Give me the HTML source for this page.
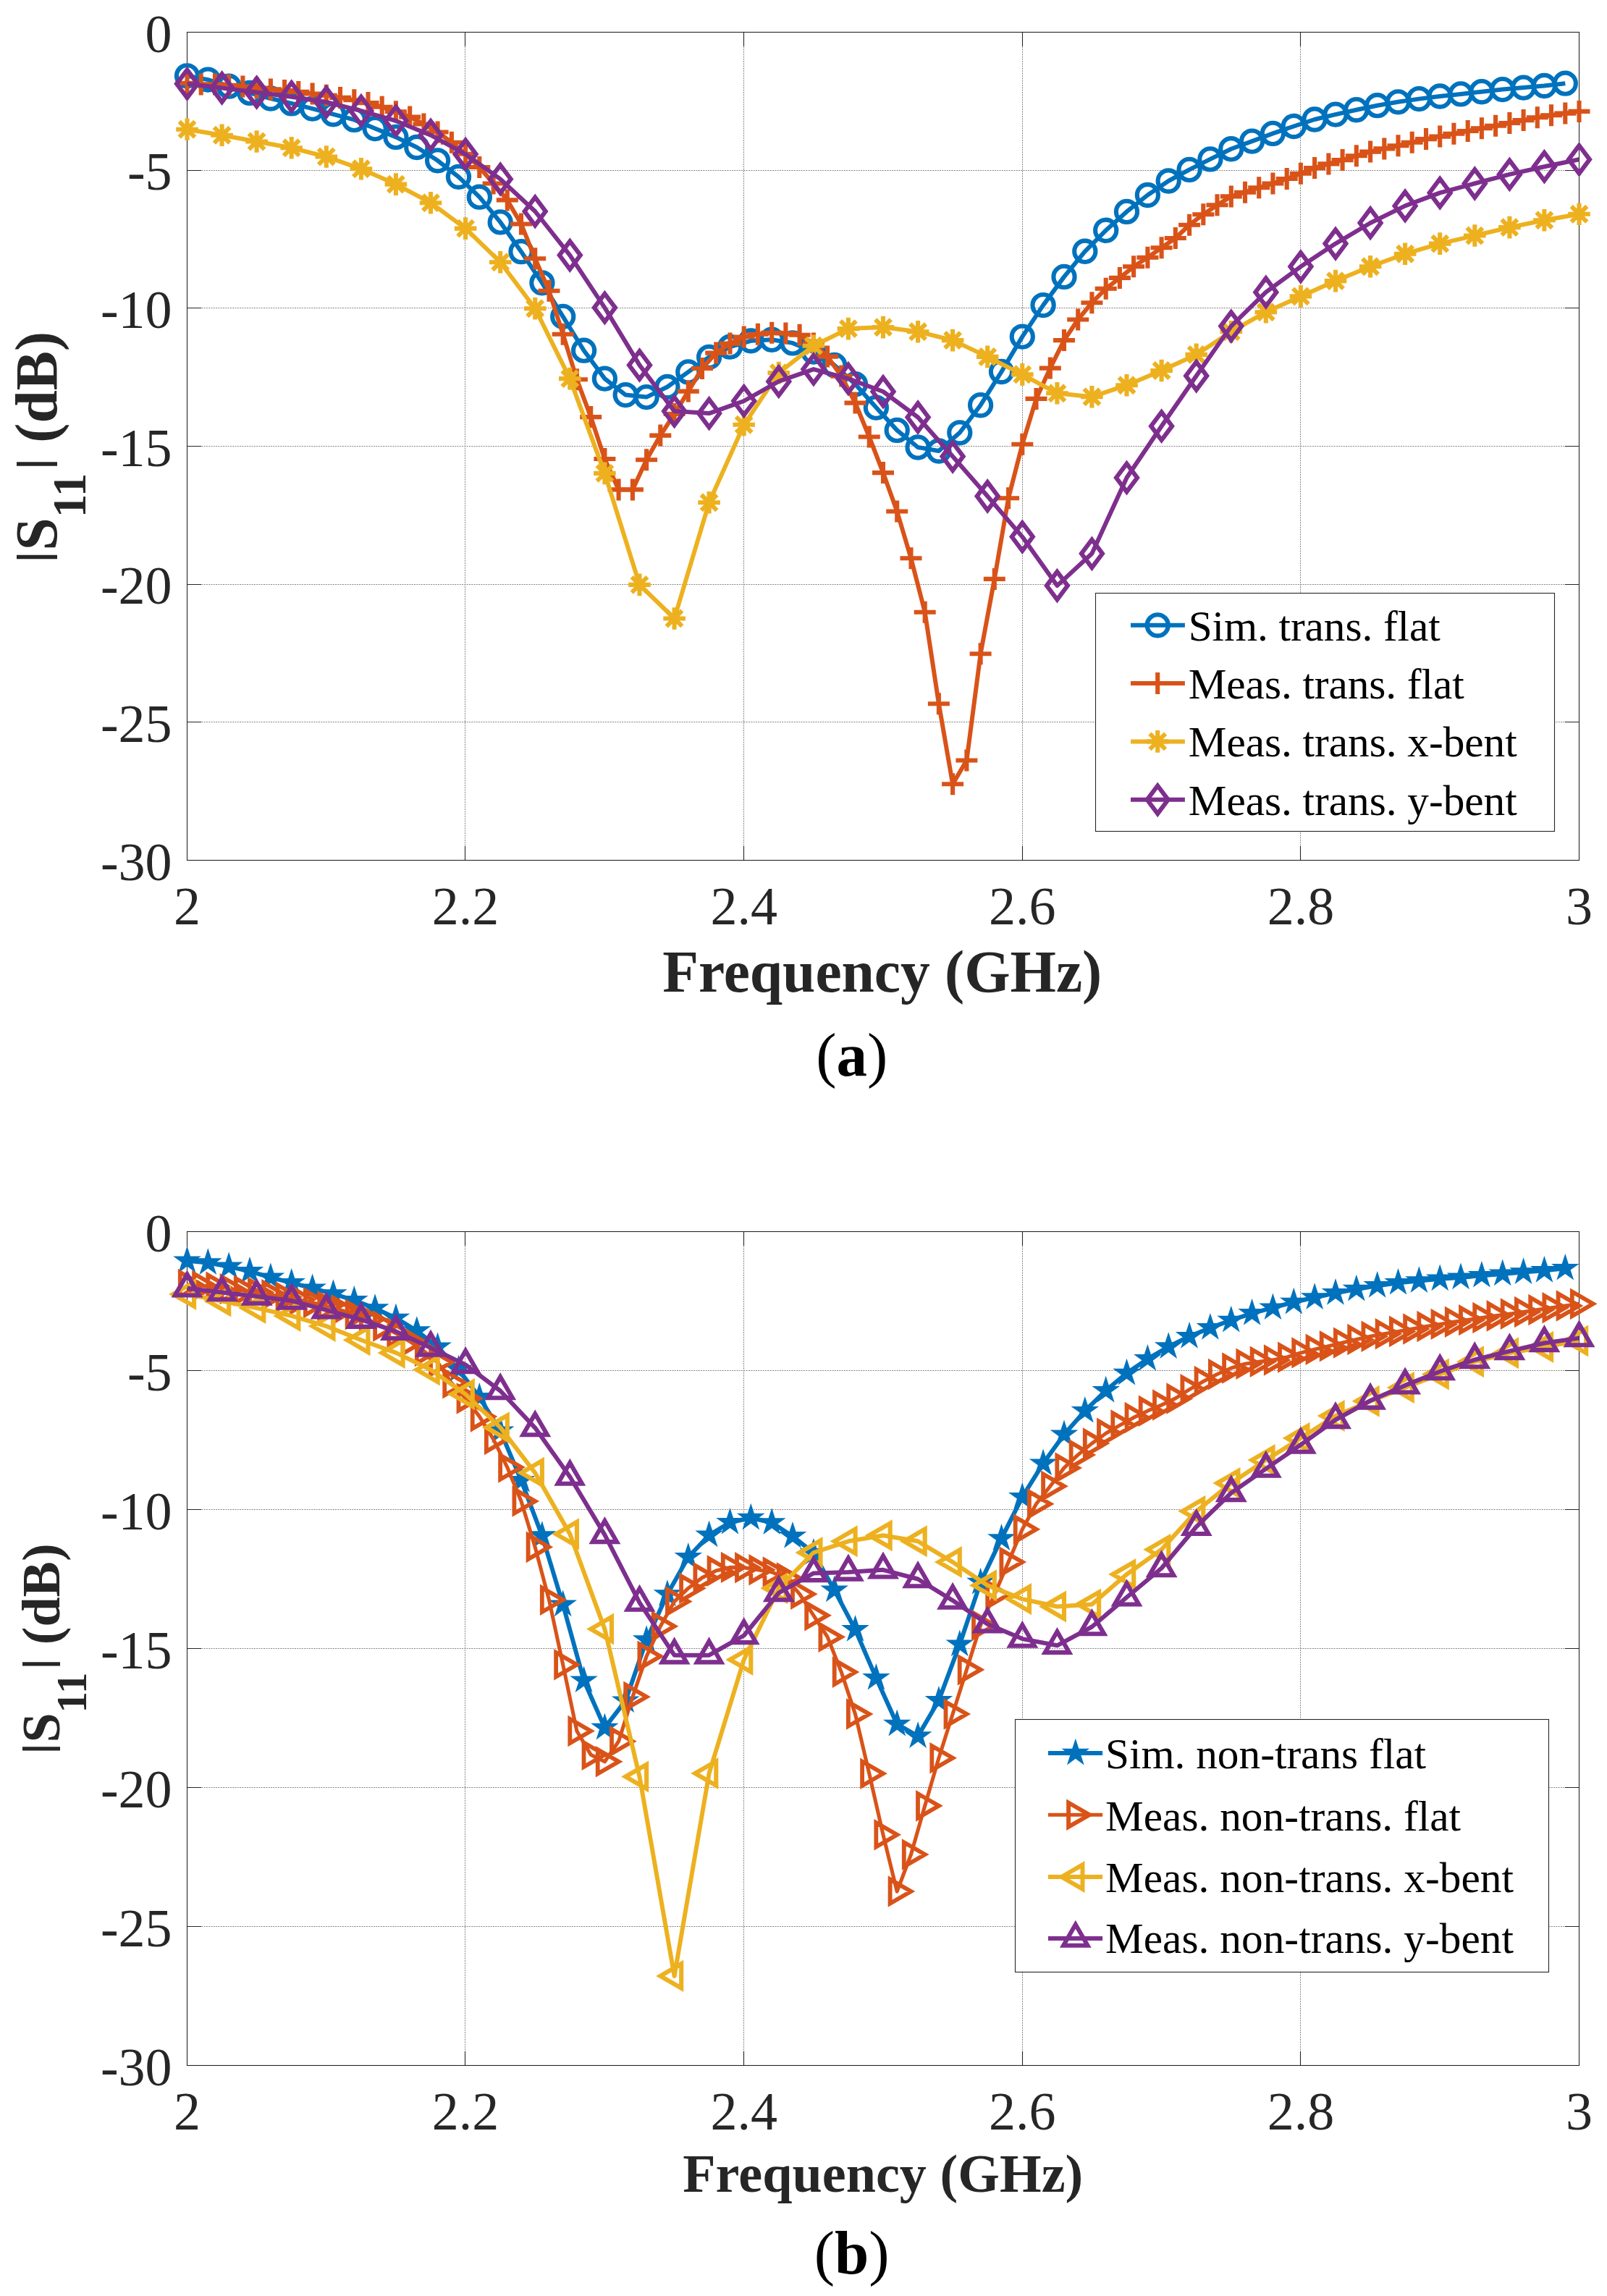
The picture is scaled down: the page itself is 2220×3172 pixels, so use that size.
<!DOCTYPE html>
<html lang="en"><head><meta charset="utf-8"><title>S11 plots</title>
<style>html,body{margin:0;padding:0;background:#fff}svg{display:block}</style></head>
<body>
<svg width="2220" height="3172" viewBox="0 0 2220 3172">
<rect width="2220" height="3172" fill="#fff"/>
<clipPath id="clip1"><rect x="258.5" y="44.5" width="1923" height="1144"/></clipPath>
<path d="M642.5 44.5V1188.5M1027.5 44.5V1188.5M1412.5 44.5V1188.5M1796.5 44.5V1188.5M258.5 235.5H2181.5M258.5 425.5H2181.5M258.5 616.5H2181.5M258.5 807.5H2181.5M258.5 997.5H2181.5" fill="none" stroke="#858585" stroke-width="1" stroke-dasharray="2 1.3"/>
<path d="M642.5 1188.5v-19.5M642.5 44.5v19.5M1027.5 1188.5v-19.5M1027.5 44.5v19.5M1412.5 1188.5v-19.5M1412.5 44.5v19.5M1796.5 1188.5v-19.5M1796.5 44.5v19.5M258.5 235.5h19.5M2181.5 235.5h-19.5M258.5 425.5h19.5M2181.5 425.5h-19.5M258.5 616.5h19.5M2181.5 616.5h-19.5M258.5 807.5h19.5M2181.5 807.5h-19.5M258.5 997.5h19.5M2181.5 997.5h-19.5" fill="none" stroke="#262626" stroke-width="1.1"/>
<rect x="258.5" y="44.5" width="1923" height="1144" fill="none" stroke="#262626" stroke-width="1.1"/>
<path d="M258.5 104.8L287.3 110.1L316.2 119.2L345 128.4L373.9 136L402.7 142.9L431.6 150.1L460.4 157.8L489.3 165.4L518.1 177.6L546.9 189.4L575.8 203.5L604.6 221.8L633.5 244.3L662.3 272.2L691.2 306.9L720 347.7L748.9 390.8L777.7 437.3L806.6 484.2L835.4 523.1L864.2 545.6L893.1 548.6L921.9 534.5L950.8 513.9L979.6 493.3L1008.5 479.2L1037.3 470.8L1066.2 469.3L1095 473.9L1123.9 486.1L1152.7 504.4L1181.5 530.7L1210.4 563.1L1239.2 594.4L1268.1 618L1296.9 623L1325.8 597.8L1354.6 559.7L1383.5 513.5L1412.3 465.1L1441.1 421.6L1470 382.4L1498.8 347.3L1527.7 318.3L1556.5 292.4L1585.4 269.5L1614.2 250L1643.1 234.4L1671.9 219.9L1700.8 205.8L1729.6 195.1L1758.4 184.4L1787.3 174.5L1816.1 165L1845 158.1L1873.8 151.7L1902.7 145.7L1931.5 140.8L1960.4 136.6L1989.2 133L2018 129.9L2046.9 126.7L2075.7 123.6L2104.6 121.1L2133.4 118.5L2162.3 115.2" fill="none" stroke="#0072BD" stroke-width="6.0" stroke-linejoin="round" clip-path="url(#clip1)"/>
<path d="M243.9 104.8a14.6 14.6 0 1 0 29.2 0a14.6 14.6 0 1 0 -29.2 0zM272.7 110.1a14.6 14.6 0 1 0 29.2 0a14.6 14.6 0 1 0 -29.2 0zM301.6 119.2a14.6 14.6 0 1 0 29.2 0a14.6 14.6 0 1 0 -29.2 0zM330.4 128.4a14.6 14.6 0 1 0 29.2 0a14.6 14.6 0 1 0 -29.2 0zM359.3 136a14.6 14.6 0 1 0 29.2 0a14.6 14.6 0 1 0 -29.2 0zM388.1 142.9a14.6 14.6 0 1 0 29.2 0a14.6 14.6 0 1 0 -29.2 0zM417 150.1a14.6 14.6 0 1 0 29.2 0a14.6 14.6 0 1 0 -29.2 0zM445.8 157.8a14.6 14.6 0 1 0 29.2 0a14.6 14.6 0 1 0 -29.2 0zM474.7 165.4a14.6 14.6 0 1 0 29.2 0a14.6 14.6 0 1 0 -29.2 0zM503.5 177.6a14.6 14.6 0 1 0 29.2 0a14.6 14.6 0 1 0 -29.2 0zM532.3 189.4a14.6 14.6 0 1 0 29.2 0a14.6 14.6 0 1 0 -29.2 0zM561.2 203.5a14.6 14.6 0 1 0 29.2 0a14.6 14.6 0 1 0 -29.2 0zM590 221.8a14.6 14.6 0 1 0 29.2 0a14.6 14.6 0 1 0 -29.2 0zM618.9 244.3a14.6 14.6 0 1 0 29.2 0a14.6 14.6 0 1 0 -29.2 0zM647.7 272.2a14.6 14.6 0 1 0 29.2 0a14.6 14.6 0 1 0 -29.2 0zM676.6 306.9a14.6 14.6 0 1 0 29.2 0a14.6 14.6 0 1 0 -29.2 0zM705.4 347.7a14.6 14.6 0 1 0 29.2 0a14.6 14.6 0 1 0 -29.2 0zM734.3 390.8a14.6 14.6 0 1 0 29.2 0a14.6 14.6 0 1 0 -29.2 0zM763.1 437.3a14.6 14.6 0 1 0 29.2 0a14.6 14.6 0 1 0 -29.2 0zM792 484.2a14.6 14.6 0 1 0 29.2 0a14.6 14.6 0 1 0 -29.2 0zM820.8 523.1a14.6 14.6 0 1 0 29.2 0a14.6 14.6 0 1 0 -29.2 0zM849.6 545.6a14.6 14.6 0 1 0 29.2 0a14.6 14.6 0 1 0 -29.2 0zM878.5 548.6a14.6 14.6 0 1 0 29.2 0a14.6 14.6 0 1 0 -29.2 0zM907.3 534.5a14.6 14.6 0 1 0 29.2 0a14.6 14.6 0 1 0 -29.2 0zM936.2 513.9a14.6 14.6 0 1 0 29.2 0a14.6 14.6 0 1 0 -29.2 0zM965 493.3a14.6 14.6 0 1 0 29.2 0a14.6 14.6 0 1 0 -29.2 0zM993.9 479.2a14.6 14.6 0 1 0 29.2 0a14.6 14.6 0 1 0 -29.2 0zM1022.7 470.8a14.6 14.6 0 1 0 29.2 0a14.6 14.6 0 1 0 -29.2 0zM1051.6 469.3a14.6 14.6 0 1 0 29.2 0a14.6 14.6 0 1 0 -29.2 0zM1080.4 473.9a14.6 14.6 0 1 0 29.2 0a14.6 14.6 0 1 0 -29.2 0zM1109.3 486.1a14.6 14.6 0 1 0 29.2 0a14.6 14.6 0 1 0 -29.2 0zM1138.1 504.4a14.6 14.6 0 1 0 29.2 0a14.6 14.6 0 1 0 -29.2 0zM1166.9 530.7a14.6 14.6 0 1 0 29.2 0a14.6 14.6 0 1 0 -29.2 0zM1195.8 563.1a14.6 14.6 0 1 0 29.2 0a14.6 14.6 0 1 0 -29.2 0zM1224.6 594.4a14.6 14.6 0 1 0 29.2 0a14.6 14.6 0 1 0 -29.2 0zM1253.5 618a14.6 14.6 0 1 0 29.2 0a14.6 14.6 0 1 0 -29.2 0zM1282.3 623a14.6 14.6 0 1 0 29.2 0a14.6 14.6 0 1 0 -29.2 0zM1311.2 597.8a14.6 14.6 0 1 0 29.2 0a14.6 14.6 0 1 0 -29.2 0zM1340 559.7a14.6 14.6 0 1 0 29.2 0a14.6 14.6 0 1 0 -29.2 0zM1368.9 513.5a14.6 14.6 0 1 0 29.2 0a14.6 14.6 0 1 0 -29.2 0zM1397.7 465.1a14.6 14.6 0 1 0 29.2 0a14.6 14.6 0 1 0 -29.2 0zM1426.5 421.6a14.6 14.6 0 1 0 29.2 0a14.6 14.6 0 1 0 -29.2 0zM1455.4 382.4a14.6 14.6 0 1 0 29.2 0a14.6 14.6 0 1 0 -29.2 0zM1484.2 347.3a14.6 14.6 0 1 0 29.2 0a14.6 14.6 0 1 0 -29.2 0zM1513.1 318.3a14.6 14.6 0 1 0 29.2 0a14.6 14.6 0 1 0 -29.2 0zM1541.9 292.4a14.6 14.6 0 1 0 29.2 0a14.6 14.6 0 1 0 -29.2 0zM1570.8 269.5a14.6 14.6 0 1 0 29.2 0a14.6 14.6 0 1 0 -29.2 0zM1599.6 250a14.6 14.6 0 1 0 29.2 0a14.6 14.6 0 1 0 -29.2 0zM1628.5 234.4a14.6 14.6 0 1 0 29.2 0a14.6 14.6 0 1 0 -29.2 0zM1657.3 219.9a14.6 14.6 0 1 0 29.2 0a14.6 14.6 0 1 0 -29.2 0zM1686.2 205.8a14.6 14.6 0 1 0 29.2 0a14.6 14.6 0 1 0 -29.2 0zM1715 195.1a14.6 14.6 0 1 0 29.2 0a14.6 14.6 0 1 0 -29.2 0zM1743.8 184.4a14.6 14.6 0 1 0 29.2 0a14.6 14.6 0 1 0 -29.2 0zM1772.7 174.5a14.6 14.6 0 1 0 29.2 0a14.6 14.6 0 1 0 -29.2 0zM1801.5 165a14.6 14.6 0 1 0 29.2 0a14.6 14.6 0 1 0 -29.2 0zM1830.4 158.1a14.6 14.6 0 1 0 29.2 0a14.6 14.6 0 1 0 -29.2 0zM1859.2 151.7a14.6 14.6 0 1 0 29.2 0a14.6 14.6 0 1 0 -29.2 0zM1888.1 145.7a14.6 14.6 0 1 0 29.2 0a14.6 14.6 0 1 0 -29.2 0zM1916.9 140.8a14.6 14.6 0 1 0 29.2 0a14.6 14.6 0 1 0 -29.2 0zM1945.8 136.6a14.6 14.6 0 1 0 29.2 0a14.6 14.6 0 1 0 -29.2 0zM1974.6 133a14.6 14.6 0 1 0 29.2 0a14.6 14.6 0 1 0 -29.2 0zM2003.4 129.9a14.6 14.6 0 1 0 29.2 0a14.6 14.6 0 1 0 -29.2 0zM2032.3 126.7a14.6 14.6 0 1 0 29.2 0a14.6 14.6 0 1 0 -29.2 0zM2061.1 123.6a14.6 14.6 0 1 0 29.2 0a14.6 14.6 0 1 0 -29.2 0zM2090 121.1a14.6 14.6 0 1 0 29.2 0a14.6 14.6 0 1 0 -29.2 0zM2118.8 118.5a14.6 14.6 0 1 0 29.2 0a14.6 14.6 0 1 0 -29.2 0zM2147.7 115.2a14.6 14.6 0 1 0 29.2 0a14.6 14.6 0 1 0 -29.2 0z" fill="none" stroke="#0072BD" stroke-width="6.1" stroke-linejoin="miter" stroke-miterlimit="10"/>
<path d="M258.5 114.7L277.7 116.6L297 116.6L316.2 117.7L335.4 119.6L354.6 121.5L373.9 123.4L393.1 125L412.3 126.9L431.6 129.5L450.8 131.8L470 134.9L489.3 138.3L508.5 142.1L527.7 147.8L546.9 154.3L566.2 161.6L585.4 171.5L604.6 182.5L623.9 196.7L643.1 212.7L662.3 231L681.6 253.5L700.8 276.4L720 309.5L739.2 357.2L758.5 401.8L777.7 461.7L796.9 524.2L816.2 576.1L835.4 634L854.6 676.4L873.9 676.4L893.1 635.2L912.3 601.6L931.6 571.9L950.8 540.6L970 509L989.2 487.6L1008.5 474.6L1027.7 465.5L1046.9 461.7L1066.2 459.8L1085.4 460.5L1104.6 462.8L1123.9 474.6L1143.1 492.6L1162.3 519.6L1181.5 556.6L1200.8 603.5L1220 653.1L1239.2 706.5L1258.5 771.3L1277.7 845.7L1296.9 972.3L1316.1 1083.3L1335.4 1050.5L1354.6 903.3L1373.8 799.9L1393.1 688.2L1412.3 613.8L1431.5 550.9L1450.8 508.6L1470 470.1L1489.2 441.5L1508.4 418.2L1527.7 398.8L1546.9 383.9L1566.1 368.3L1585.4 355.7L1604.6 342.3L1623.8 329L1643.1 310.7L1662.3 296.2L1681.5 283.2L1700.8 271.4L1720 265.7L1739.2 259.2L1758.4 253.5L1777.7 247L1796.9 239.7L1816.1 232.1L1835.4 226.4L1854.6 221.1L1873.8 215.3L1893.1 209.6L1912.3 205.4L1931.5 201.2L1950.7 196.7L1970 192.1L1989.2 188.6L2008.4 184.8L2027.7 181L2046.9 177.2L2066.1 173.8L2085.4 170L2104.6 166.1L2123.8 162.3L2143 159.3L2162.3 156.6L2181.5 153.9" fill="none" stroke="#D95319" stroke-width="6.0" stroke-linejoin="round" clip-path="url(#clip1)"/>
<path d="M243.5 114.7h30M258.5 99.7v30M262.7 116.6h30M277.7 101.6v30M282 116.6h30M297 101.6v30M301.2 117.7h30M316.2 102.7v30M320.4 119.6h30M335.4 104.6v30M339.6 121.5h30M354.6 106.5v30M358.9 123.4h30M373.9 108.4v30M378.1 125h30M393.1 110v30M397.3 126.9h30M412.3 111.9v30M416.6 129.5h30M431.6 114.5v30M435.8 131.8h30M450.8 116.8v30M455 134.9h30M470 119.9v30M474.3 138.3h30M489.3 123.3v30M493.5 142.1h30M508.5 127.1v30M512.7 147.8h30M527.7 132.8v30M531.9 154.3h30M546.9 139.3v30M551.2 161.6h30M566.2 146.6v30M570.4 171.5h30M585.4 156.5v30M589.6 182.5h30M604.6 167.5v30M608.9 196.7h30M623.9 181.7v30M628.1 212.7h30M643.1 197.7v30M647.3 231h30M662.3 216v30M666.6 253.5h30M681.6 238.5v30M685.8 276.4h30M700.8 261.4v30M705 309.5h30M720 294.5v30M724.2 357.2h30M739.2 342.2v30M743.5 401.8h30M758.5 386.8v30M762.7 461.7h30M777.7 446.7v30M781.9 524.2h30M796.9 509.2v30M801.2 576.1h30M816.2 561.1v30M820.4 634h30M835.4 619v30M839.6 676.4h30M854.6 661.4v30M858.9 676.4h30M873.9 661.4v30M878.1 635.2h30M893.1 620.2v30M897.3 601.6h30M912.3 586.6v30M916.6 571.9h30M931.6 556.9v30M935.8 540.6h30M950.8 525.6v30M955 509h30M970 494v30M974.2 487.6h30M989.2 472.6v30M993.5 474.6h30M1008.5 459.6v30M1012.7 465.5h30M1027.7 450.5v30M1031.9 461.7h30M1046.9 446.7v30M1051.2 459.8h30M1066.2 444.8v30M1070.4 460.5h30M1085.4 445.5v30M1089.6 462.8h30M1104.6 447.8v30M1108.9 474.6h30M1123.9 459.6v30M1128.1 492.6h30M1143.1 477.6v30M1147.3 519.6h30M1162.3 504.6v30M1166.5 556.6h30M1181.5 541.6v30M1185.8 603.5h30M1200.8 588.5v30M1205 653.1h30M1220 638.1v30M1224.2 706.5h30M1239.2 691.5v30M1243.5 771.3h30M1258.5 756.3v30M1262.7 845.7h30M1277.7 830.7v30M1281.9 972.3h30M1296.9 957.3v30M1301.1 1083.3h30M1316.1 1068.3v30M1320.4 1050.5h30M1335.4 1035.5v30M1339.6 903.3h30M1354.6 888.3v30M1358.8 799.9h30M1373.8 784.9v30M1378.1 688.2h30M1393.1 673.2v30M1397.3 613.8h30M1412.3 598.8v30M1416.5 550.9h30M1431.5 535.9v30M1435.8 508.6h30M1450.8 493.6v30M1455 470.1h30M1470 455.1v30M1474.2 441.5h30M1489.2 426.5v30M1493.4 418.2h30M1508.4 403.2v30M1512.7 398.8h30M1527.7 383.8v30M1531.9 383.9h30M1546.9 368.9v30M1551.1 368.3h30M1566.1 353.3v30M1570.4 355.7h30M1585.4 340.7v30M1589.6 342.3h30M1604.6 327.3v30M1608.8 329h30M1623.8 314v30M1628.1 310.7h30M1643.1 295.7v30M1647.3 296.2h30M1662.3 281.2v30M1666.5 283.2h30M1681.5 268.2v30M1685.8 271.4h30M1700.8 256.4v30M1705 265.7h30M1720 250.7v30M1724.2 259.2h30M1739.2 244.2v30M1743.4 253.5h30M1758.4 238.5v30M1762.7 247h30M1777.7 232v30M1781.9 239.7h30M1796.9 224.7v30M1801.1 232.1h30M1816.1 217.1v30M1820.4 226.4h30M1835.4 211.4v30M1839.6 221.1h30M1854.6 206.1v30M1858.8 215.3h30M1873.8 200.3v30M1878.1 209.6h30M1893.1 194.6v30M1897.3 205.4h30M1912.3 190.4v30M1916.5 201.2h30M1931.5 186.2v30M1935.7 196.7h30M1950.7 181.7v30M1955 192.1h30M1970 177.1v30M1974.2 188.6h30M1989.2 173.6v30M1993.4 184.8h30M2008.4 169.8v30M2012.7 181h30M2027.7 166v30M2031.9 177.2h30M2046.9 162.2v30M2051.1 173.8h30M2066.1 158.8v30M2070.4 170h30M2085.4 155v30M2089.6 166.1h30M2104.6 151.1v30M2108.8 162.3h30M2123.8 147.3v30M2128 159.3h30M2143 144.3v30M2147.3 156.6h30M2162.3 141.6v30M2166.5 153.9h30M2181.5 138.9v30" fill="none" stroke="#D95319" stroke-width="6.1" stroke-linejoin="miter" stroke-miterlimit="10"/>
<path d="M258.5 178.7L306.6 186.7L354.6 195.5L402.7 204.3L450.8 216.5L498.9 233.3L546.9 254.6L595 280.2L643.1 315.6L691.2 362.2L739.2 426.2L787.3 523.1L835.4 653.9L883.5 807.9L931.6 854.5L979.6 694.3L1027.7 586.8L1075.8 515.1L1123.9 477.7L1171.9 454.1L1220 452.1L1268.1 458.2L1316.1 470.1L1364.2 492.9L1412.3 517.4L1460.4 543.3L1508.4 548.2L1556.5 532.2L1604.6 512L1652.7 489.9L1700.8 458.2L1748.8 431.2L1796.9 409.4L1845 388.1L1893.1 368.3L1941.1 350.7L1989.2 336.6L2037.3 325.5L2085.4 314.1L2133.4 304.2L2181.5 295.8" fill="none" stroke="#EDB120" stroke-width="6.0" stroke-linejoin="round" clip-path="url(#clip1)"/>
<path d="M243.2 178.7h30.6M258.5 163.4v30.6M247.7 167.9l21.6 21.6M247.7 189.5l21.6 -21.6M291.3 186.7h30.6M306.6 171.4v30.6M295.8 175.9l21.6 21.6M295.8 197.6l21.6 -21.6M339.3 195.5h30.6M354.6 180.2v30.6M343.8 184.7l21.6 21.6M343.8 206.3l21.6 -21.6M387.4 204.3h30.6M402.7 189v30.6M391.9 193.5l21.6 21.6M391.9 215.1l21.6 -21.6M435.5 216.5h30.6M450.8 201.2v30.6M440 205.7l21.6 21.6M440 227.3l21.6 -21.6M483.6 233.3h30.6M498.9 218v30.6M488.1 222.4l21.6 21.6M488.1 244.1l21.6 -21.6M531.6 254.6h30.6M546.9 239.3v30.6M536.1 243.8l21.6 21.6M536.1 265.4l21.6 -21.6M579.7 280.2h30.6M595 264.9v30.6M584.2 269.3l21.6 21.6M584.2 291l21.6 -21.6M627.8 315.6h30.6M643.1 300.3v30.6M632.3 304.8l21.6 21.6M632.3 326.4l21.6 -21.6M675.9 362.2h30.6M691.2 346.9v30.6M680.4 351.3l21.6 21.6M680.4 373l21.6 -21.6M724 426.2h30.6M739.2 410.9v30.6M728.4 415.4l21.6 21.6M728.4 437l21.6 -21.6M772 523.1h30.6M787.3 507.8v30.6M776.5 512.3l21.6 21.6M776.5 533.9l21.6 -21.6M820.1 653.9h30.6M835.4 638.6v30.6M824.6 643.1l21.6 21.6M824.6 664.7l21.6 -21.6M868.2 807.9h30.6M883.5 792.6v30.6M872.7 797.1l21.6 21.6M872.7 818.7l21.6 -21.6M916.3 854.5h30.6M931.6 839.2v30.6M920.7 843.6l21.6 21.6M920.7 865.3l21.6 -21.6M964.3 694.3h30.6M979.6 679v30.6M968.8 683.5l21.6 21.6M968.8 705.1l21.6 -21.6M1012.4 586.8h30.6M1027.7 571.5v30.6M1016.9 575.9l21.6 21.6M1016.9 597.6l21.6 -21.6M1060.5 515.1h30.6M1075.8 499.8v30.6M1065 504.2l21.6 21.6M1065 525.9l21.6 -21.6M1108.6 477.7h30.6M1123.9 462.4v30.6M1113 466.9l21.6 21.6M1113 488.5l21.6 -21.6M1156.6 454.1h30.6M1171.9 438.8v30.6M1161.1 443.2l21.6 21.6M1161.1 464.9l21.6 -21.6M1204.7 452.1h30.6M1220 436.8v30.6M1209.2 441.3l21.6 21.6M1209.2 463l21.6 -21.6M1252.8 458.2h30.6M1268.1 442.9v30.6M1257.3 447.4l21.6 21.6M1257.3 469.1l21.6 -21.6M1300.8 470.1h30.6M1316.1 454.8v30.6M1305.3 459.2l21.6 21.6M1305.3 480.9l21.6 -21.6M1348.9 492.9h30.6M1364.2 477.6v30.6M1353.4 482.1l21.6 21.6M1353.4 503.8l21.6 -21.6M1397 517.4h30.6M1412.3 502.1v30.6M1401.5 506.5l21.6 21.6M1401.5 528.2l21.6 -21.6M1445.1 543.3h30.6M1460.4 528v30.6M1449.6 532.5l21.6 21.6M1449.6 554.1l21.6 -21.6M1493.1 548.2h30.6M1508.4 532.9v30.6M1497.6 537.4l21.6 21.6M1497.6 559.1l21.6 -21.6M1541.2 532.2h30.6M1556.5 516.9v30.6M1545.7 521.4l21.6 21.6M1545.7 543l21.6 -21.6M1589.3 512h30.6M1604.6 496.7v30.6M1593.8 501.2l21.6 21.6M1593.8 522.8l21.6 -21.6M1637.4 489.9h30.6M1652.7 474.6v30.6M1641.9 479.1l21.6 21.6M1641.9 500.7l21.6 -21.6M1685.5 458.2h30.6M1700.8 442.9v30.6M1689.9 447.4l21.6 21.6M1689.9 469.1l21.6 -21.6M1733.5 431.2h30.6M1748.8 415.9v30.6M1738 420.4l21.6 21.6M1738 442l21.6 -21.6M1781.6 409.4h30.6M1796.9 394.1v30.6M1786.1 398.6l21.6 21.6M1786.1 420.3l21.6 -21.6M1829.7 388.1h30.6M1845 372.8v30.6M1834.2 377.3l21.6 21.6M1834.2 398.9l21.6 -21.6M1877.8 368.3h30.6M1893.1 353v30.6M1882.2 357.4l21.6 21.6M1882.2 379.1l21.6 -21.6M1925.8 350.7h30.6M1941.1 335.4v30.6M1930.3 339.9l21.6 21.6M1930.3 361.5l21.6 -21.6M1973.9 336.6h30.6M1989.2 321.3v30.6M1978.4 325.8l21.6 21.6M1978.4 347.4l21.6 -21.6M2022 325.5h30.6M2037.3 310.2v30.6M2026.5 314.7l21.6 21.6M2026.5 336.4l21.6 -21.6M2070.1 314.1h30.6M2085.4 298.8v30.6M2074.5 303.3l21.6 21.6M2074.5 324.9l21.6 -21.6M2118.1 304.2h30.6M2133.4 288.9v30.6M2122.6 293.4l21.6 21.6M2122.6 315l21.6 -21.6M2166.2 295.8h30.6M2181.5 280.5v30.6M2170.7 285l21.6 21.6M2170.7 306.6l21.6 -21.6" fill="none" stroke="#EDB120" stroke-width="6.1" stroke-linejoin="miter" stroke-miterlimit="10"/>
<path d="M258.5 115.8L306.6 121.5L354.6 127.6L402.7 133.7L450.8 141L498.9 153.2L546.9 166.9L595 186.7L643.1 213L691.2 247.4L739.2 292L787.3 352.6L835.4 425.1L883.5 504.4L931.6 568.1L979.6 571.1L1027.7 554L1075.8 526.9L1123.9 510.1L1171.9 523.1L1220 541L1268.1 576.5L1316.1 630.6L1364.2 685.5L1412.3 741.6L1460.4 809.1L1508.4 764.8L1556.5 660L1604.6 588.7L1652.7 519.3L1700.8 450.6L1748.8 403.7L1796.9 368.3L1845 336.6L1893.1 308L1941.1 284.4L1989.2 266.4L2037.3 253.5L2085.4 240.9L2133.4 230.2L2181.5 220.3" fill="none" stroke="#7E2F8E" stroke-width="6.0" stroke-linejoin="round" clip-path="url(#clip1)"/>
<path d="M258.5 96.5l14.5 19.3l-14.5 19.3l-14.5 -19.3zM306.6 102.2l14.5 19.3l-14.5 19.3l-14.5 -19.3zM354.6 108.3l14.5 19.3l-14.5 19.3l-14.5 -19.3zM402.7 114.4l14.5 19.3l-14.5 19.3l-14.5 -19.3zM450.8 121.7l14.5 19.3l-14.5 19.3l-14.5 -19.3zM498.9 133.9l14.5 19.3l-14.5 19.3l-14.5 -19.3zM546.9 147.6l14.5 19.3l-14.5 19.3l-14.5 -19.3zM595 167.4l14.5 19.3l-14.5 19.3l-14.5 -19.3zM643.1 193.7l14.5 19.3l-14.5 19.3l-14.5 -19.3zM691.2 228.1l14.5 19.3l-14.5 19.3l-14.5 -19.3zM739.2 272.7l14.5 19.3l-14.5 19.3l-14.5 -19.3zM787.3 333.3l14.5 19.3l-14.5 19.3l-14.5 -19.3zM835.4 405.8l14.5 19.3l-14.5 19.3l-14.5 -19.3zM883.5 485.1l14.5 19.3l-14.5 19.3l-14.5 -19.3zM931.6 548.8l14.5 19.3l-14.5 19.3l-14.5 -19.3zM979.6 551.8l14.5 19.3l-14.5 19.3l-14.5 -19.3zM1027.7 534.7l14.5 19.3l-14.5 19.3l-14.5 -19.3zM1075.8 507.6l14.5 19.3l-14.5 19.3l-14.5 -19.3zM1123.9 490.8l14.5 19.3l-14.5 19.3l-14.5 -19.3zM1171.9 503.8l14.5 19.3l-14.5 19.3l-14.5 -19.3zM1220 521.7l14.5 19.3l-14.5 19.3l-14.5 -19.3zM1268.1 557.2l14.5 19.3l-14.5 19.3l-14.5 -19.3zM1316.1 611.3l14.5 19.3l-14.5 19.3l-14.5 -19.3zM1364.2 666.2l14.5 19.3l-14.5 19.3l-14.5 -19.3zM1412.3 722.3l14.5 19.3l-14.5 19.3l-14.5 -19.3zM1460.4 789.8l14.5 19.3l-14.5 19.3l-14.5 -19.3zM1508.4 745.5l14.5 19.3l-14.5 19.3l-14.5 -19.3zM1556.5 640.7l14.5 19.3l-14.5 19.3l-14.5 -19.3zM1604.6 569.4l14.5 19.3l-14.5 19.3l-14.5 -19.3zM1652.7 500l14.5 19.3l-14.5 19.3l-14.5 -19.3zM1700.8 431.3l14.5 19.3l-14.5 19.3l-14.5 -19.3zM1748.8 384.4l14.5 19.3l-14.5 19.3l-14.5 -19.3zM1796.9 349l14.5 19.3l-14.5 19.3l-14.5 -19.3zM1845 317.3l14.5 19.3l-14.5 19.3l-14.5 -19.3zM1893.1 288.7l14.5 19.3l-14.5 19.3l-14.5 -19.3zM1941.1 265.1l14.5 19.3l-14.5 19.3l-14.5 -19.3zM1989.2 247.1l14.5 19.3l-14.5 19.3l-14.5 -19.3zM2037.3 234.2l14.5 19.3l-14.5 19.3l-14.5 -19.3zM2085.4 221.6l14.5 19.3l-14.5 19.3l-14.5 -19.3zM2133.4 210.9l14.5 19.3l-14.5 19.3l-14.5 -19.3zM2181.5 201l14.5 19.3l-14.5 19.3l-14.5 -19.3z" fill="none" stroke="#7E2F8E" stroke-width="6.1" stroke-linejoin="miter" stroke-miterlimit="10"/>
<g font-family='"Liberation Serif", "Times New Roman", Times, serif' font-size="74" fill="#262626"><g text-anchor="middle"><text x="258.5" y="1277.2">2</text><text x="643.1" y="1277.2">2.2</text><text x="1027.7" y="1277.2">2.4</text><text x="1412.3" y="1277.2">2.6</text><text x="1796.9" y="1277.2">2.8</text><text x="2181.5" y="1277.2">3</text></g><g text-anchor="end"><text x="237.6" y="71.5">0</text><text x="237.6" y="262.2">-5</text><text x="237.6" y="452.8">-10</text><text x="237.6" y="643.5">-15</text><text x="237.6" y="834.2">-20</text><text x="237.6" y="1024.8">-25</text><text x="237.6" y="1215.5">-30</text></g></g>
<g transform="translate(78.4 772.6) rotate(-90)" font-family='"Liberation Serif", "Times New Roman", Times, serif' font-weight="bold" fill="#262626" font-size="81.5"><text transform="translate(-5.9 -12.8) scale(1 0.76)">|</text><text x="12.1" y="0">S<tspan font-size="65.2" dy="39.2">11</tspan></text><text transform="translate(122.6 -12.8) scale(1 0.76)">|</text><text x="140.5" y="0" xml:space="preserve"> (dB)</text></g>
<text x="1218.7" y="1370.4" font-family='"Liberation Serif", "Times New Roman", Times, serif' font-weight="bold" font-size="81.5" fill="#262626" text-anchor="middle" textLength="607" lengthAdjust="spacing">Frequency (GHz)</text>
<text x="1176.7" y="1485.7" font-family='"Liberation Serif", "Times New Roman", Times, serif' font-size="85" fill="#000" text-anchor="middle">(<tspan font-weight="bold">a</tspan>)</text>
<rect x="1513.5" y="819.5" width="634" height="329" fill="#fff" stroke="#262626" stroke-width="1.1"/>
<path d="M1562 863.8H1636.9" stroke="#0072BD" stroke-width="6.0" fill="none"/>
<path d="M1584.6 863.8a14.6 14.6 0 1 0 29.2 0a14.6 14.6 0 1 0 -29.2 0z" fill="none" stroke="#0072BD" stroke-width="6.1" stroke-linejoin="miter" stroke-miterlimit="10"/>
<text x="1641.7" y="884.7" font-family='"Liberation Serif", "Times New Roman", Times, serif' font-size="59.3" fill="#000" textLength="348" lengthAdjust="spacing">Sim. trans. flat</text>
<path d="M1562 944H1636.9" stroke="#D95319" stroke-width="6.0" fill="none"/>
<path d="M1584.2 944h30M1599.2 929v30" fill="none" stroke="#D95319" stroke-width="6.1" stroke-linejoin="miter" stroke-miterlimit="10"/>
<text x="1641.7" y="964.7" font-family='"Liberation Serif", "Times New Roman", Times, serif' font-size="59.3" fill="#000" textLength="381" lengthAdjust="spacing">Meas. trans. flat</text>
<path d="M1562 1024.4H1636.9" stroke="#EDB120" stroke-width="6.0" fill="none"/>
<path d="M1583.9 1024.4h30.6M1599.2 1009.1v30.6M1588.4 1013.6l21.6 21.6M1588.4 1035.2l21.6 -21.6" fill="none" stroke="#EDB120" stroke-width="6.1" stroke-linejoin="miter" stroke-miterlimit="10"/>
<text x="1641.7" y="1045.2" font-family='"Liberation Serif", "Times New Roman", Times, serif' font-size="59.3" fill="#000" textLength="454" lengthAdjust="spacing">Meas. trans. x-bent</text>
<path d="M1562 1104.8H1636.9" stroke="#7E2F8E" stroke-width="6.0" fill="none"/>
<path d="M1599.2 1085.5l14.5 19.3l-14.5 19.3l-14.5 -19.3z" fill="none" stroke="#7E2F8E" stroke-width="6.1" stroke-linejoin="miter" stroke-miterlimit="10"/>
<text x="1641.7" y="1125.8" font-family='"Liberation Serif", "Times New Roman", Times, serif' font-size="59.3" fill="#000" textLength="454" lengthAdjust="spacing">Meas. trans. y-bent</text>
<clipPath id="clip2"><rect x="258.5" y="1701.5" width="1923" height="1152"/></clipPath>
<path d="M642.5 1701.5V2853.5M1027.5 1701.5V2853.5M1412.5 1701.5V2853.5M1796.5 1701.5V2853.5M258.5 1893.5H2181.5M258.5 2085.5H2181.5M258.5 2277.5H2181.5M258.5 2469.5H2181.5M258.5 2661.5H2181.5" fill="none" stroke="#858585" stroke-width="1" stroke-dasharray="2 1.3"/>
<path d="M642.5 2853.5v-19.5M642.5 1701.5v19.5M1027.5 2853.5v-19.5M1027.5 1701.5v19.5M1412.5 2853.5v-19.5M1412.5 1701.5v19.5M1796.5 2853.5v-19.5M1796.5 1701.5v19.5M258.5 1893.5h19.5M2181.5 1893.5h-19.5M258.5 2085.5h19.5M2181.5 2085.5h-19.5M258.5 2277.5h19.5M2181.5 2277.5h-19.5M258.5 2469.5h19.5M2181.5 2469.5h-19.5M258.5 2661.5h19.5M2181.5 2661.5h-19.5" fill="none" stroke="#262626" stroke-width="1.1"/>
<rect x="258.5" y="1701.5" width="1923" height="1152" fill="none" stroke="#262626" stroke-width="1.1"/>
<path d="M258.5 1741.8L287.3 1744.5L316.2 1749.9L345 1756.4L373.9 1764.9L402.7 1772.2L431.6 1779.8L460.4 1787.5L489.3 1796.3L518.1 1807.5L546.9 1820.9L575.8 1838.6L604.6 1860.9L633.5 1892L662.3 1930.4L691.2 1976.8L720 2045.2L748.9 2121.6L777.7 2216.8L806.6 2321.7L835.4 2386.9L864.2 2349.7L893.1 2265.6L921.9 2202.6L950.8 2151.2L979.6 2120.8L1008.5 2103.2L1037.3 2097L1066.2 2103.5L1095 2122.4L1123.9 2145.4L1152.7 2196.9L1181.5 2251.4L1210.4 2318.2L1239.2 2381.9L1268.1 2398.5L1296.9 2349.3L1325.8 2271.7L1354.6 2186.1L1383.5 2125.4L1412.3 2068.2L1441.1 2021.8L1470 1981.8L1498.8 1949.2L1527.7 1921.1L1556.5 1897L1585.4 1877.4L1614.2 1860.5L1643.1 1846.3L1671.9 1834.4L1700.8 1824L1729.6 1814.4L1758.4 1806.7L1787.3 1799L1816.1 1792.5L1845 1786.4L1873.8 1781L1902.7 1776.4L1931.5 1772.2L1960.4 1769.5L1989.2 1766.8L2018 1764.9L2046.9 1762.2L2075.7 1759.9L2104.6 1757.6L2133.4 1755.3L2162.3 1752.2" fill="none" stroke="#0072BD" stroke-width="6.0" stroke-linejoin="round" clip-path="url(#clip2)"/>
<path d="M258.5 1721.5L263.1 1735.5L277.8 1735.5L265.9 1744.2L270.4 1758.2L258.5 1749.6L246.6 1758.2L251.1 1744.2L239.2 1735.5L253.9 1735.5zM287.3 1724.2L291.9 1738.2L306.7 1738.2L294.7 1746.9L299.3 1760.9L287.3 1752.3L275.4 1760.9L280 1746.9L268 1738.2L282.8 1738.2zM316.2 1729.6L320.7 1743.6L335.5 1743.6L323.6 1752.3L328.1 1766.3L316.2 1757.6L304.3 1766.3L308.8 1752.3L296.9 1743.6L311.6 1743.6zM345 1736.1L349.6 1750.1L364.3 1750.1L352.4 1758.8L357 1772.8L345 1764.2L333.1 1772.8L337.7 1758.8L325.7 1750.1L340.5 1750.1zM373.9 1744.6L378.4 1758.6L393.2 1758.6L381.3 1767.3L385.8 1781.3L373.9 1772.6L361.9 1781.3L366.5 1767.3L354.6 1758.6L369.3 1758.6zM402.7 1751.9L407.3 1765.9L422 1765.9L410.1 1774.6L414.7 1788.6L402.7 1779.9L390.8 1788.6L395.3 1774.6L383.4 1765.9L398.2 1765.9zM431.6 1759.5L436.1 1773.6L450.9 1773.6L438.9 1782.2L443.5 1796.3L431.6 1787.6L419.6 1796.3L424.2 1782.2L412.3 1773.6L427 1773.6zM460.4 1767.2L465 1781.2L479.7 1781.2L467.8 1789.9L472.3 1803.9L460.4 1795.3L448.5 1803.9L453 1789.9L441.1 1781.2L455.9 1781.2zM489.3 1776L493.8 1790.1L508.6 1790.1L496.6 1798.7L501.2 1812.8L489.3 1804.1L477.3 1812.8L481.9 1798.7L470 1790.1L484.7 1790.1zM518.1 1787.2L522.7 1801.2L537.4 1801.2L525.5 1809.9L530 1823.9L518.1 1815.2L506.2 1823.9L510.7 1809.9L498.8 1801.2L513.5 1801.2zM546.9 1800.6L551.5 1814.7L566.3 1814.7L554.3 1823.3L558.9 1837.3L546.9 1828.7L535 1837.3L539.6 1823.3L527.6 1814.7L542.4 1814.7zM575.8 1818.3L580.4 1832.3L595.1 1832.3L583.2 1841L587.7 1855L575.8 1846.3L563.9 1855L568.4 1841L556.5 1832.3L571.2 1832.3zM604.6 1840.6L609.2 1854.6L623.9 1854.6L612 1863.3L616.6 1877.3L604.6 1868.6L592.7 1877.3L597.3 1863.3L585.3 1854.6L600.1 1854.6zM633.5 1871.7L638 1885.7L652.8 1885.7L640.9 1894.4L645.4 1908.4L633.5 1899.7L621.6 1908.4L626.1 1894.4L614.2 1885.7L628.9 1885.7zM662.3 1910.1L666.9 1924.1L681.6 1924.1L669.7 1932.8L674.3 1946.8L662.3 1938.1L650.4 1946.8L655 1932.8L643 1924.1L657.8 1924.1zM691.2 1956.5L695.7 1970.6L710.5 1970.6L698.6 1979.2L703.1 1993.3L691.2 1984.6L679.2 1993.3L683.8 1979.2L671.9 1970.6L686.6 1970.6zM720 2024.9L724.6 2038.9L739.3 2038.9L727.4 2047.6L732 2061.6L720 2052.9L708.1 2061.6L712.6 2047.6L700.7 2038.9L715.5 2038.9zM748.9 2101.3L753.4 2115.3L768.2 2115.3L756.2 2124L760.8 2138L748.9 2129.4L736.9 2138L741.5 2124L729.6 2115.3L744.3 2115.3zM777.7 2196.5L782.3 2210.6L797 2210.6L785.1 2219.2L789.6 2233.3L777.7 2224.6L765.8 2233.3L770.3 2219.2L758.4 2210.6L773.2 2210.6zM806.6 2301.4L811.1 2315.4L825.9 2315.4L813.9 2324.1L818.5 2338.1L806.6 2329.4L794.6 2338.1L799.2 2324.1L787.2 2315.4L802 2315.4zM835.4 2366.6L840 2380.7L854.7 2380.7L842.8 2389.3L847.3 2403.4L835.4 2394.7L823.5 2403.4L828 2389.3L816.1 2380.7L830.8 2380.7zM864.2 2329.4L868.8 2343.4L883.6 2343.4L871.6 2352.1L876.2 2366.1L864.2 2357.4L852.3 2366.1L856.9 2352.1L844.9 2343.4L859.7 2343.4zM893.1 2245.3L897.6 2259.3L912.4 2259.3L900.5 2268L905 2282L893.1 2273.4L881.2 2282L885.7 2268L873.8 2259.3L888.5 2259.3zM921.9 2182.3L926.5 2196.3L941.2 2196.3L929.3 2205L933.9 2219L921.9 2210.4L910 2219L914.6 2205L902.6 2196.3L917.4 2196.3zM950.8 2130.9L955.3 2144.9L970.1 2144.9L958.2 2153.6L962.7 2167.6L950.8 2158.9L938.8 2167.6L943.4 2153.6L931.5 2144.9L946.2 2144.9zM979.6 2100.5L984.2 2114.6L998.9 2114.6L987 2123.2L991.6 2137.3L979.6 2128.6L967.7 2137.3L972.2 2123.2L960.3 2114.6L975.1 2114.6zM1008.5 2082.9L1013 2096.9L1027.8 2096.9L1015.8 2105.6L1020.4 2119.6L1008.5 2110.9L996.5 2119.6L1001.1 2105.6L989.2 2096.9L1003.9 2096.9zM1037.3 2076.7L1041.9 2090.7L1056.6 2090.7L1044.7 2099.4L1049.2 2113.4L1037.3 2104.8L1025.4 2113.4L1029.9 2099.4L1018 2090.7L1032.8 2090.7zM1066.2 2083.2L1070.7 2097.3L1085.5 2097.3L1073.5 2105.9L1078.1 2120L1066.2 2111.3L1054.2 2120L1058.8 2105.9L1046.9 2097.3L1061.6 2097.3zM1095 2102.1L1099.6 2116.1L1114.3 2116.1L1102.4 2124.8L1106.9 2138.8L1095 2130.1L1083.1 2138.8L1087.6 2124.8L1075.7 2116.1L1090.4 2116.1zM1123.9 2125.1L1128.4 2139.1L1143.2 2139.1L1131.2 2147.8L1135.8 2161.8L1123.9 2153.2L1111.9 2161.8L1116.5 2147.8L1104.5 2139.1L1119.3 2139.1zM1152.7 2176.6L1157.3 2190.6L1172 2190.6L1160.1 2199.3L1164.6 2213.3L1152.7 2204.6L1140.8 2213.3L1145.3 2199.3L1133.4 2190.6L1148.1 2190.6zM1181.5 2231.1L1186.1 2245.1L1200.8 2245.1L1188.9 2253.8L1193.5 2267.8L1181.5 2259.1L1169.6 2267.8L1174.2 2253.8L1162.2 2245.1L1177 2245.1zM1210.4 2297.9L1214.9 2311.9L1229.7 2311.9L1217.8 2320.6L1222.3 2334.6L1210.4 2326L1198.5 2334.6L1203 2320.6L1191.1 2311.9L1205.8 2311.9zM1239.2 2361.6L1243.8 2375.7L1258.5 2375.7L1246.6 2384.3L1251.2 2398.4L1239.2 2389.7L1227.3 2398.4L1231.9 2384.3L1219.9 2375.7L1234.7 2375.7zM1268.1 2378.2L1272.6 2392.2L1287.4 2392.2L1275.5 2400.9L1280 2414.9L1268.1 2406.2L1256.1 2414.9L1260.7 2400.9L1248.8 2392.2L1263.5 2392.2zM1296.9 2329L1301.5 2343L1316.2 2343L1304.3 2351.7L1308.9 2365.7L1296.9 2357.1L1285 2365.7L1289.5 2351.7L1277.6 2343L1292.4 2343zM1325.8 2251.4L1330.3 2265.5L1345.1 2265.5L1333.1 2274.1L1337.7 2288.2L1325.8 2279.5L1313.8 2288.2L1318.4 2274.1L1306.5 2265.5L1321.2 2265.5zM1354.6 2165.8L1359.2 2179.8L1373.9 2179.8L1362 2188.5L1366.5 2202.5L1354.6 2193.9L1342.7 2202.5L1347.2 2188.5L1335.3 2179.8L1350.1 2179.8zM1383.5 2105.1L1388 2119.2L1402.8 2119.2L1390.8 2127.8L1395.4 2141.9L1383.5 2133.2L1371.5 2141.9L1376.1 2127.8L1364.1 2119.2L1378.9 2119.2zM1412.3 2047.9L1416.9 2061.9L1431.6 2061.9L1419.7 2070.6L1424.2 2084.6L1412.3 2076L1400.4 2084.6L1404.9 2070.6L1393 2061.9L1407.7 2061.9zM1441.1 2001.5L1445.7 2015.5L1460.5 2015.5L1448.5 2024.2L1453.1 2038.2L1441.1 2029.5L1429.2 2038.2L1433.8 2024.2L1421.8 2015.5L1436.6 2015.5zM1470 1961.5L1474.5 1975.5L1489.3 1975.5L1477.4 1984.2L1481.9 1998.2L1470 1989.6L1458.1 1998.2L1462.6 1984.2L1450.7 1975.5L1465.4 1975.5zM1498.8 1928.9L1503.4 1942.9L1518.1 1942.9L1506.2 1951.6L1510.8 1965.6L1498.8 1956.9L1486.9 1965.6L1491.5 1951.6L1479.5 1942.9L1494.3 1942.9zM1527.7 1900.8L1532.2 1914.9L1547 1914.9L1535.1 1923.5L1539.6 1937.6L1527.7 1928.9L1515.7 1937.6L1520.3 1923.5L1508.4 1914.9L1523.1 1914.9zM1556.5 1876.7L1561.1 1890.7L1575.8 1890.7L1563.9 1899.4L1568.5 1913.4L1556.5 1904.7L1544.6 1913.4L1549.1 1899.4L1537.2 1890.7L1552 1890.7zM1585.4 1857.1L1589.9 1871.1L1604.7 1871.1L1592.7 1879.8L1597.3 1893.8L1585.4 1885.1L1573.4 1893.8L1578 1879.8L1566.1 1871.1L1580.8 1871.1zM1614.2 1840.2L1618.8 1854.2L1633.5 1854.2L1621.6 1862.9L1626.1 1876.9L1614.2 1868.2L1602.3 1876.9L1606.8 1862.9L1594.9 1854.2L1609.7 1854.2zM1643.1 1826L1647.6 1840L1662.4 1840L1650.4 1848.7L1655 1862.7L1643.1 1854L1631.1 1862.7L1635.7 1848.7L1623.8 1840L1638.5 1840zM1671.9 1814.1L1676.5 1828.1L1691.2 1828.1L1679.3 1836.8L1683.8 1850.8L1671.9 1842.1L1660 1850.8L1664.5 1836.8L1652.6 1828.1L1667.3 1828.1zM1700.8 1803.7L1705.3 1817.7L1720.1 1817.7L1708.1 1826.4L1712.7 1840.4L1700.8 1831.8L1688.8 1840.4L1693.4 1826.4L1681.4 1817.7L1696.2 1817.7zM1729.6 1794.1L1734.2 1808.1L1748.9 1808.1L1737 1816.8L1741.5 1830.8L1729.6 1822.2L1717.7 1830.8L1722.2 1816.8L1710.3 1808.1L1725 1808.1zM1758.4 1786.4L1763 1800.4L1777.7 1800.4L1765.8 1809.1L1770.4 1823.1L1758.4 1814.5L1746.5 1823.1L1751.1 1809.1L1739.1 1800.4L1753.9 1800.4zM1787.3 1778.7L1791.8 1792.8L1806.6 1792.8L1794.7 1801.4L1799.2 1815.5L1787.3 1806.8L1775.4 1815.5L1779.9 1801.4L1768 1792.8L1782.7 1792.8zM1816.1 1772.2L1820.7 1786.2L1835.4 1786.2L1823.5 1794.9L1828.1 1808.9L1816.1 1800.3L1804.2 1808.9L1808.8 1794.9L1796.8 1786.2L1811.6 1786.2zM1845 1766.1L1849.5 1780.1L1864.3 1780.1L1852.4 1788.8L1856.9 1802.8L1845 1794.1L1833 1802.8L1837.6 1788.8L1825.7 1780.1L1840.4 1780.1zM1873.8 1760.7L1878.4 1774.7L1893.1 1774.7L1881.2 1783.4L1885.8 1797.4L1873.8 1788.7L1861.9 1797.4L1866.4 1783.4L1854.5 1774.7L1869.3 1774.7zM1902.7 1756.1L1907.2 1770.1L1922 1770.1L1910 1778.8L1914.6 1792.8L1902.7 1784.1L1890.7 1792.8L1895.3 1778.8L1883.4 1770.1L1898.1 1770.1zM1931.5 1751.9L1936.1 1765.9L1950.8 1765.9L1938.9 1774.6L1943.4 1788.6L1931.5 1779.9L1919.6 1788.6L1924.1 1774.6L1912.2 1765.9L1927 1765.9zM1960.4 1749.2L1964.9 1763.2L1979.7 1763.2L1967.7 1771.9L1972.3 1785.9L1960.4 1777.2L1948.4 1785.9L1953 1771.9L1941 1763.2L1955.8 1763.2zM1989.2 1746.5L1993.8 1760.5L2008.5 1760.5L1996.6 1769.2L2001.1 1783.2L1989.2 1774.5L1977.3 1783.2L1981.8 1769.2L1969.9 1760.5L1984.6 1760.5zM2018 1744.6L2022.6 1758.6L2037.4 1758.6L2025.4 1767.3L2030 1781.3L2018 1772.6L2006.1 1781.3L2010.7 1767.3L1998.7 1758.6L2013.5 1758.6zM2046.9 1741.9L2051.4 1755.9L2066.2 1755.9L2054.3 1764.6L2058.8 1778.6L2046.9 1769.9L2035 1778.6L2039.5 1764.6L2027.6 1755.9L2042.3 1755.9zM2075.7 1739.6L2080.3 1753.6L2095 1753.6L2083.1 1762.3L2087.7 1776.3L2075.7 1767.6L2063.8 1776.3L2068.4 1762.3L2056.4 1753.6L2071.2 1753.6zM2104.6 1737.3L2109.1 1751.3L2123.9 1751.3L2112 1760L2116.5 1774L2104.6 1765.3L2092.6 1774L2097.2 1760L2085.3 1751.3L2100 1751.3zM2133.4 1735L2138 1749L2152.7 1749L2140.8 1757.7L2145.4 1771.7L2133.4 1763L2121.5 1771.7L2126 1757.7L2114.1 1749L2128.9 1749zM2162.3 1731.9L2166.8 1745.9L2181.6 1745.9L2169.6 1754.6L2174.2 1768.6L2162.3 1759.9L2150.3 1768.6L2154.9 1754.6L2143 1745.9L2157.7 1745.9z" fill="#0072BD" stroke="none"/>
<path d="M258.5 1774.5L277.7 1776.4L297 1778.3L316.2 1780.6L335.4 1782.9L354.6 1785.6L373.9 1788.7L393.1 1792.1L412.3 1795.6L431.6 1799.8L450.8 1804.4L470 1809.8L489.3 1815.9L508.5 1823.2L527.7 1832.1L546.9 1842L566.2 1853.2L585.4 1866.6L604.6 1882L623.9 1910.8L643.1 1931.9L662.3 1956.9L681.6 1988.3L700.8 2027.1L720 2074L739.2 2137.3L758.5 2210.3L777.7 2299.8L796.9 2391.5L816.2 2424.2L835.4 2433.8L854.6 2405.8L873.9 2344.3L893.1 2288.3L912.3 2246.8L931.6 2212.6L950.8 2194.2L970 2179.6L989.2 2170L1008.5 2165.4L1027.7 2165.8L1046.9 2168.8L1066.2 2171.9L1085.4 2180L1104.6 2202.2L1123.9 2231.8L1143.1 2261.4L1162.3 2310.1L1181.5 2368.1L1200.8 2450.3L1220 2534.8L1239.2 2613.1L1258.5 2562L1277.7 2494.8L1296.9 2428.8L1316.1 2368.1L1335.4 2306.7L1354.6 2245.2L1373.8 2203L1393.1 2158.1L1412.3 2112.8L1431.5 2077.8L1450.8 2053.2L1470 2027.9L1489.2 2009.9L1508.4 1994.1L1527.7 1980.3L1546.9 1969.1L1566.1 1958.4L1585.4 1949.2L1604.6 1941.1L1623.8 1931.9L1643.1 1919.6L1662.3 1908.5L1681.5 1898.5L1700.8 1890L1720 1884.3L1739.2 1881.2L1758.4 1878.9L1777.7 1875.1L1796.9 1868.9L1816.1 1864.3L1835.4 1859.7L1854.6 1855.1L1873.8 1850.5L1893.1 1846.3L1912.3 1842.8L1931.5 1839.4L1950.7 1835.9L1970 1832.4L1989.2 1829.4L2008.4 1826.3L2027.7 1823.6L2046.9 1820.5L2066.1 1817.9L2085.4 1815.2L2104.6 1812.5L2123.8 1809.4L2143 1806.7L2162.3 1804L2181.5 1801.3" fill="none" stroke="#D95319" stroke-width="5.1" stroke-linejoin="round" clip-path="url(#clip2)"/>
<path d="M277.8 1774.5L248.8 1791.2L248.8 1757.7zM297 1776.4L268.1 1793.1L268.1 1759.7zM316.3 1778.3L287.3 1795L287.3 1761.6zM335.5 1780.6L306.5 1797.3L306.5 1763.9zM354.7 1782.9L325.8 1799.6L325.8 1766.2zM373.9 1785.6L345 1802.3L345 1768.9zM393.2 1788.7L364.2 1805.4L364.2 1772zM412.4 1792.1L383.5 1808.8L383.5 1775.4zM431.6 1795.6L402.7 1812.3L402.7 1778.9zM450.9 1799.8L421.9 1816.5L421.9 1783.1zM470.1 1804.4L441.2 1821.1L441.2 1787.7zM489.3 1809.8L460.4 1826.5L460.4 1793.1zM508.6 1815.9L479.6 1832.6L479.6 1799.2zM527.8 1823.2L498.8 1839.9L498.8 1806.5zM547 1832.1L518.1 1848.8L518.1 1815.3zM566.2 1842L537.3 1858.8L537.3 1825.3zM585.5 1853.2L556.5 1869.9L556.5 1836.5zM604.7 1866.6L575.8 1883.3L575.8 1849.9zM623.9 1882L595 1898.7L595 1865.3zM643.2 1910.8L614.2 1927.5L614.2 1894.1zM662.4 1931.9L633.5 1948.6L633.5 1915.2zM681.6 1956.9L652.7 1973.6L652.7 1940.1zM700.9 1988.3L671.9 2005.1L671.9 1971.6zM720.1 2027.1L691.1 2043.8L691.1 2010.4zM739.3 2074L710.4 2090.7L710.4 2057.3zM758.5 2137.3L729.6 2154.1L729.6 2120.6zM777.8 2210.3L748.8 2227L748.8 2193.6zM797 2299.8L768.1 2316.5L768.1 2283.1zM816.2 2391.5L787.3 2408.3L787.3 2374.8zM835.5 2424.2L806.5 2440.9L806.5 2407.5zM854.7 2433.8L825.7 2450.5L825.7 2417.1zM873.9 2405.8L845 2422.5L845 2389zM893.2 2344.3L864.2 2361L864.2 2327.6zM912.4 2288.3L883.4 2305L883.4 2271.5zM931.6 2246.8L902.7 2263.5L902.7 2230.1zM950.9 2212.6L921.9 2229.3L921.9 2195.9zM970.1 2194.2L941.1 2210.9L941.1 2177.5zM989.3 2179.6L960.4 2196.3L960.4 2162.9zM1008.5 2170L979.6 2186.7L979.6 2153.3zM1027.8 2165.4L998.8 2182.1L998.8 2148.7zM1047 2165.8L1018 2182.5L1018 2149zM1066.2 2168.8L1037.3 2185.5L1037.3 2152.1zM1085.5 2171.9L1056.5 2188.6L1056.5 2155.2zM1104.7 2180L1075.7 2196.7L1075.7 2163.2zM1123.9 2202.2L1095 2219L1095 2185.5zM1143.2 2231.8L1114.2 2248.5L1114.2 2215.1zM1162.4 2261.4L1133.4 2278.1L1133.4 2244.7zM1181.6 2310.1L1152.7 2326.9L1152.7 2293.4zM1200.8 2368.1L1171.9 2384.8L1171.9 2351.4zM1220.1 2450.3L1191.1 2467L1191.1 2433.6zM1239.3 2534.8L1210.3 2551.5L1210.3 2518.1zM1258.5 2613.1L1229.6 2629.8L1229.6 2596.4zM1277.8 2562L1248.8 2578.8L1248.8 2545.3zM1297 2494.8L1268 2511.6L1268 2478.1zM1316.2 2428.8L1287.3 2445.5L1287.3 2412.1zM1335.4 2368.1L1306.5 2384.8L1306.5 2351.4zM1354.7 2306.7L1325.7 2323.4L1325.7 2290zM1373.9 2245.2L1345 2262L1345 2228.5zM1393.1 2203L1364.2 2219.7L1364.2 2186.3zM1412.4 2158.1L1383.4 2174.8L1383.4 2141.4zM1431.6 2112.8L1402.7 2129.5L1402.7 2096zM1450.8 2077.8L1421.9 2094.5L1421.9 2061.1zM1470.1 2053.2L1441.1 2070L1441.1 2036.5zM1489.3 2027.9L1460.3 2044.6L1460.3 2011.2zM1508.5 2009.9L1479.6 2026.6L1479.6 1993.1zM1527.7 1994.1L1498.8 2010.8L1498.8 1977.4zM1547 1980.3L1518 1997L1518 1963.6zM1566.2 1969.1L1537.3 1985.9L1537.3 1952.4zM1585.4 1958.4L1556.5 1975.1L1556.5 1941.7zM1604.7 1949.2L1575.7 1965.9L1575.7 1932.5zM1623.9 1941.1L1595 1957.8L1595 1924.4zM1643.1 1931.9L1614.2 1948.6L1614.2 1915.2zM1662.4 1919.6L1633.4 1936.3L1633.4 1902.9zM1681.6 1908.5L1652.6 1925.2L1652.6 1891.8zM1700.8 1898.5L1671.9 1915.2L1671.9 1881.8zM1720 1890L1691.1 1906.8L1691.1 1873.3zM1739.3 1884.3L1710.3 1901L1710.3 1867.6zM1758.5 1881.2L1729.6 1897.9L1729.6 1864.5zM1777.7 1878.9L1748.8 1895.6L1748.8 1862.2zM1797 1875.1L1768 1891.8L1768 1858.4zM1816.2 1868.9L1787.2 1885.6L1787.2 1852.2zM1835.4 1864.3L1806.5 1881L1806.5 1847.6zM1854.7 1859.7L1825.7 1876.4L1825.7 1843zM1873.9 1855.1L1844.9 1871.8L1844.9 1838.4zM1893.1 1850.5L1864.2 1867.2L1864.2 1833.8zM1912.4 1846.3L1883.4 1863L1883.4 1829.6zM1931.6 1842.8L1902.6 1859.5L1902.6 1826.1zM1950.8 1839.4L1921.9 1856.1L1921.9 1822.6zM1970 1835.9L1941.1 1852.6L1941.1 1819.2zM1989.3 1832.4L1960.3 1849.2L1960.3 1815.7zM2008.5 1829.4L1979.5 1846.1L1979.5 1812.7zM2027.7 1826.3L1998.8 1843L1998.8 1809.6zM2047 1823.6L2018 1840.3L2018 1806.9zM2066.2 1820.5L2037.2 1837.3L2037.2 1803.8zM2085.4 1817.9L2056.5 1834.6L2056.5 1801.1zM2104.7 1815.2L2075.7 1831.9L2075.7 1798.4zM2123.9 1812.5L2094.9 1829.2L2094.9 1795.8zM2143.1 1809.4L2114.2 1826.1L2114.2 1792.7zM2162.3 1806.7L2133.4 1823.4L2133.4 1790zM2181.6 1804L2152.6 1820.7L2152.6 1787.3zM2200.8 1801.3L2171.8 1818.1L2171.8 1784.6z" fill="none" stroke="#D95319" stroke-width="5.8" stroke-linejoin="miter" stroke-miterlimit="10"/>
<path d="M258.5 1787.9L306.6 1797.5L354.6 1807.1L402.7 1817.9L450.8 1832.1L498.9 1851.3L546.9 1868.9L595 1892.3L643.1 1926.1L691.2 1972.2L739.2 2034.8L787.3 2119.3L835.4 2250.6L883.5 2454.5L931.6 2729.9L979.6 2449.9L1027.7 2292.9L1075.8 2194.2L1123.9 2145L1171.9 2129.3L1220 2121.2L1268.1 2129.3L1316.1 2158.1L1364.2 2190.3L1412.3 2209.1L1460.4 2219.5L1508.4 2216.4L1556.5 2175L1604.6 2140.8L1652.7 2087.8L1700.8 2049L1748.8 2017.1L1796.9 1986.8L1845 1956.1L1893.1 1935.7L1941.1 1916.9L1989.2 1898.5L2037.3 1881.2L2085.4 1869.3L2133.4 1860.9L2181.5 1852.4" fill="none" stroke="#EDB120" stroke-width="6.0" stroke-linejoin="round" clip-path="url(#clip2)"/>
<path d="M239.2 1787.9L268.1 1771.2L268.1 1804.6zM287.3 1797.5L316.2 1780.8L316.2 1814.2zM335.3 1807.1L364.3 1790.4L364.3 1823.8zM383.4 1817.9L412.4 1801.1L412.4 1834.6zM431.5 1832.1L460.5 1815.3L460.5 1848.8zM479.6 1851.3L508.5 1834.5L508.5 1868zM527.6 1868.9L556.6 1852.2L556.6 1885.6zM575.7 1892.3L604.7 1875.6L604.7 1909.1zM623.8 1926.1L652.8 1909.4L652.8 1942.9zM671.9 1972.2L700.8 1955.5L700.8 1988.9zM720 2034.8L748.9 2018.1L748.9 2051.5zM768 2119.3L797 2102.6L797 2136zM816.1 2250.6L845 2233.9L845 2267.3zM864.2 2454.5L893.1 2437.8L893.1 2471.2zM912.3 2729.9L941.2 2713.1L941.2 2746.6zM960.3 2449.9L989.3 2433.2L989.3 2466.6zM1008.4 2292.9L1037.3 2276.1L1037.3 2309.6zM1056.5 2194.2L1085.4 2177.5L1085.4 2210.9zM1104.6 2145L1133.5 2128.3L1133.5 2161.7zM1152.6 2129.3L1181.6 2112.6L1181.6 2146zM1200.7 2121.2L1229.7 2104.5L1229.7 2137.9zM1248.8 2129.3L1277.7 2112.6L1277.7 2146zM1296.8 2158.1L1325.8 2141.4L1325.8 2174.8zM1344.9 2190.3L1373.9 2173.6L1373.9 2207zM1393 2209.1L1422 2192.4L1422 2225.9zM1441.1 2219.5L1470 2202.8L1470 2236.2zM1489.1 2216.4L1518.1 2199.7L1518.1 2233.2zM1537.2 2175L1566.2 2158.3L1566.2 2191.7zM1585.3 2140.8L1614.3 2124.1L1614.3 2157.5zM1633.4 2087.8L1662.3 2071.1L1662.3 2104.5zM1681.5 2049L1710.4 2032.3L1710.4 2065.7zM1729.5 2017.1L1758.5 2000.4L1758.5 2033.9zM1777.6 1986.8L1806.5 1970.1L1806.5 2003.5zM1825.7 1956.1L1854.6 1939.4L1854.6 1972.8zM1873.8 1935.7L1902.7 1919L1902.7 1952.5zM1921.8 1916.9L1950.8 1900.2L1950.8 1933.6zM1969.9 1898.5L1998.8 1881.8L1998.8 1915.2zM2018 1881.2L2046.9 1864.5L2046.9 1897.9zM2066.1 1869.3L2095 1852.6L2095 1886zM2114.1 1860.9L2143.1 1844.1L2143.1 1877.6zM2162.2 1852.4L2191.2 1835.7L2191.2 1869.1z" fill="none" stroke="#EDB120" stroke-width="6.1" stroke-linejoin="miter" stroke-miterlimit="10"/>
<path d="M258.5 1779.8L306.6 1785.6L354.6 1791L402.7 1797.1L450.8 1809.8L498.9 1823.2L546.9 1839.4L595 1862L643.1 1885.4L691.2 1921.5L739.2 1972.6L787.3 2040.2L835.4 2120.4L883.5 2214.1L931.6 2286.7L979.6 2286.7L1027.7 2259.5L1075.8 2200.7L1123.9 2173.4L1171.9 2171.9L1220 2168.8L1268.1 2181.5L1316.1 2211.1L1364.2 2243.7L1412.3 2264.1L1460.4 2273.3L1508.4 2247.5L1556.5 2206.8L1604.6 2166.5L1652.7 2109.3L1700.8 2062.5L1748.8 2029.1L1796.9 1996L1845 1961.5L1893.1 1935L1941.1 1913.9L1989.2 1894.7L2037.3 1878.5L2085.4 1866.6L2133.4 1855.5L2181.5 1848.6" fill="none" stroke="#7E2F8E" stroke-width="6.0" stroke-linejoin="round" clip-path="url(#clip2)"/>
<path d="M258.5 1760.5L275.2 1789.5L241.8 1789.5zM306.6 1766.3L323.3 1795.2L289.9 1795.2zM354.6 1771.7L371.4 1800.6L337.9 1800.6zM402.7 1777.8L419.4 1806.8L386 1806.8zM450.8 1790.5L467.5 1819.4L434.1 1819.4zM498.9 1803.9L515.6 1832.9L482.2 1832.9zM546.9 1820.1L563.7 1849L530.2 1849zM595 1842.7L611.7 1871.7L578.3 1871.7zM643.1 1866.1L659.8 1895.1L626.4 1895.1zM691.2 1902.2L707.9 1931.2L674.5 1931.2zM739.2 1953.3L756 1982.3L722.5 1982.3zM787.3 2020.9L804 2049.8L770.6 2049.8zM835.4 2101.1L852.1 2130.1L818.7 2130.1zM883.5 2194.8L900.2 2223.8L866.8 2223.8zM931.6 2267.4L948.3 2296.4L914.8 2296.4zM979.6 2267.4L996.3 2296.4L962.9 2296.4zM1027.7 2240.2L1044.4 2269.1L1011 2269.1zM1075.8 2181.4L1092.5 2210.3L1059.1 2210.3zM1123.9 2154.1L1140.6 2183.1L1107.1 2183.1zM1171.9 2152.6L1188.6 2181.6L1155.2 2181.6zM1220 2149.5L1236.7 2178.5L1203.3 2178.5zM1268.1 2162.2L1284.8 2191.2L1251.4 2191.2zM1316.1 2191.8L1332.9 2220.7L1299.4 2220.7zM1364.2 2224.4L1380.9 2253.4L1347.5 2253.4zM1412.3 2244.8L1429 2273.7L1395.6 2273.7zM1460.4 2254L1477.1 2282.9L1443.7 2282.9zM1508.4 2228.2L1525.2 2257.2L1491.7 2257.2zM1556.5 2187.5L1573.2 2216.5L1539.8 2216.5zM1604.6 2147.2L1621.3 2176.2L1587.9 2176.2zM1652.7 2090L1669.4 2119L1636 2119zM1700.8 2043.2L1717.5 2072.1L1684 2072.1zM1748.8 2009.8L1765.5 2038.7L1732.1 2038.7zM1796.9 1976.7L1813.6 2005.7L1780.2 2005.7zM1845 1942.2L1861.7 1971.1L1828.3 1971.1zM1893.1 1915.7L1909.8 1944.6L1876.3 1944.6zM1941.1 1894.6L1957.8 1923.5L1924.4 1923.5zM1989.2 1875.4L2005.9 1904.3L1972.5 1904.3zM2037.3 1859.2L2054 1888.2L2020.6 1888.2zM2085.4 1847.3L2102.1 1876.3L2068.6 1876.3zM2133.4 1836.2L2150.1 1865.1L2116.7 1865.1zM2181.5 1829.3L2198.2 1858.2L2164.8 1858.2z" fill="none" stroke="#7E2F8E" stroke-width="6.1" stroke-linejoin="miter" stroke-miterlimit="10"/>
<g font-family='"Liberation Serif", "Times New Roman", Times, serif' font-size="74" fill="#262626"><g text-anchor="middle"><text x="258.5" y="2941.6">2</text><text x="643.1" y="2941.6">2.2</text><text x="1027.7" y="2941.6">2.4</text><text x="1412.3" y="2941.6">2.6</text><text x="1796.9" y="2941.6">2.8</text><text x="2181.5" y="2941.6">3</text></g><g text-anchor="end"><text x="237.6" y="1728.5">0</text><text x="237.6" y="1920.5">-5</text><text x="237.6" y="2112.5">-10</text><text x="237.6" y="2304.5">-15</text><text x="237.6" y="2496.5">-20</text><text x="237.6" y="2688.5">-25</text><text x="237.6" y="2880.5">-30</text></g></g>
<g transform="translate(82.3 2418.6) rotate(-90)" font-family='"Liberation Serif", "Times New Roman", Times, serif' font-weight="bold" fill="#262626" font-size="74.1"><text transform="translate(-5.3 -11.6) scale(1 0.76)">|</text><text x="11" y="0">S<tspan font-size="59.3" dy="36.3">11</tspan></text><text transform="translate(111.5 -11.6) scale(1 0.76)">|</text><text x="127.8" y="0" xml:space="preserve"> (dB)</text></g>
<text x="1219.8" y="3028" font-family='"Liberation Serif", "Times New Roman", Times, serif' font-weight="bold" font-size="74.1" fill="#262626" text-anchor="middle" textLength="553" lengthAdjust="spacing">Frequency (GHz)</text>
<text x="1176.7" y="3141" font-family='"Liberation Serif", "Times New Roman", Times, serif' font-size="85" fill="#000" text-anchor="middle">(<tspan font-weight="bold">b</tspan>)</text>
<rect x="1402.5" y="2375.5" width="737" height="349" fill="#fff" stroke="#262626" stroke-width="1.1"/>
<path d="M1448 2422H1523.1" stroke="#0072BD" stroke-width="6.0" fill="none"/>
<path d="M1485.8 2401.7L1490.4 2415.7L1505.1 2415.7L1493.2 2424.4L1497.7 2438.4L1485.8 2429.8L1473.9 2438.4L1478.4 2424.4L1466.5 2415.7L1481.2 2415.7z" fill="#0072BD" stroke="none"/>
<text x="1527" y="2443.2" font-family='"Liberation Serif", "Times New Roman", Times, serif' font-size="59.3" fill="#000" textLength="443" lengthAdjust="spacing">Sim. non-trans flat</text>
<path d="M1448 2507.2H1523.1" stroke="#D95319" stroke-width="4.9" fill="none"/>
<path d="M1505.1 2507.2L1476.1 2523.9L1476.1 2490.5z" fill="none" stroke="#D95319" stroke-width="5.9" stroke-linejoin="miter" stroke-miterlimit="10"/>
<text x="1527" y="2528.6" font-family='"Liberation Serif", "Times New Roman", Times, serif' font-size="59.3" fill="#000" textLength="491" lengthAdjust="spacing">Meas. non-trans. flat</text>
<path d="M1448 2593H1523.1" stroke="#EDB120" stroke-width="6.0" fill="none"/>
<path d="M1466.5 2593L1495.5 2576.3L1495.5 2609.7z" fill="none" stroke="#EDB120" stroke-width="6.0" stroke-linejoin="miter" stroke-miterlimit="10"/>
<text x="1527" y="2613.7" font-family='"Liberation Serif", "Times New Roman", Times, serif' font-size="59.3" fill="#000" textLength="564" lengthAdjust="spacing">Meas. non-trans. x-bent</text>
<path d="M1448 2678H1523.1" stroke="#7E2F8E" stroke-width="6.0" fill="none"/>
<path d="M1485.8 2658.7L1502.5 2687.7L1469.1 2687.7z" fill="none" stroke="#7E2F8E" stroke-width="6.0" stroke-linejoin="miter" stroke-miterlimit="10"/>
<text x="1527" y="2698.3" font-family='"Liberation Serif", "Times New Roman", Times, serif' font-size="59.3" fill="#000" textLength="564" lengthAdjust="spacing">Meas. non-trans. y-bent</text>
</svg>
</body></html>
